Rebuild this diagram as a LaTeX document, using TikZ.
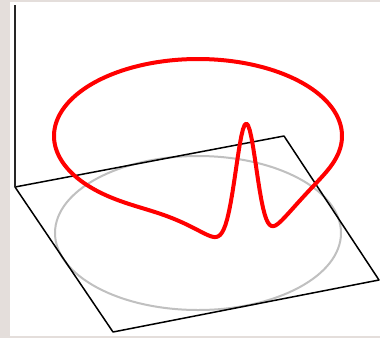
\documentclass[tikz,border=0pt]{standalone}
\definecolor{bgframe}{RGB}{228,222,219}
\definecolor{shadowgray}{RGB}{192,192,192}
\tikzset{
  axisline/.style={draw=black!85,line width=1.8pt},
  planeedge/.style={draw=black,line width=1.5pt,line join=round},
  shadowcurve/.style={draw=shadowgray,line width=2pt},
  redcurve/.style={draw=red,line width=4pt,line join=round},
}
\begin{document}
\begin{tikzpicture}[x=1pt,y=-1pt]
\useasboundingbox (0,0) rectangle (380,338);
\fill[bgframe] (0,0) rectangle (380,338);
\fill[white] (10,2) rectangle (380,336);
% plane corners
\coordinate (pl) at (15,187);
\coordinate (pt) at (284,136);
\coordinate (pr) at (379,280);
\coordinate (pb) at (113,332);
\coordinate (ax) at (15,5);
% shadow ellipse
\draw[shadowcurve] (198,233) ellipse [x radius=143pt, y radius=77pt];
% plane
\draw[planeedge] (pl) -- (pt) -- (pr) -- (pb) -- cycle;
% vertical axis
\draw[axisline] (ax) -- (pl);
% red curve
\draw[redcurve] plot[domain=-250:110,samples=500,variable=\t]
  ({198+144*cos(\t)},
   {233-77*sin(\t)-(97+121*exp(max(-((\t+70.5)/10)^2/0.38,-20))-36*exp(max(-((\t+70.5)/10)^2/5.16,-20)))}) -- cycle;
\end{tikzpicture}
\end{document}
